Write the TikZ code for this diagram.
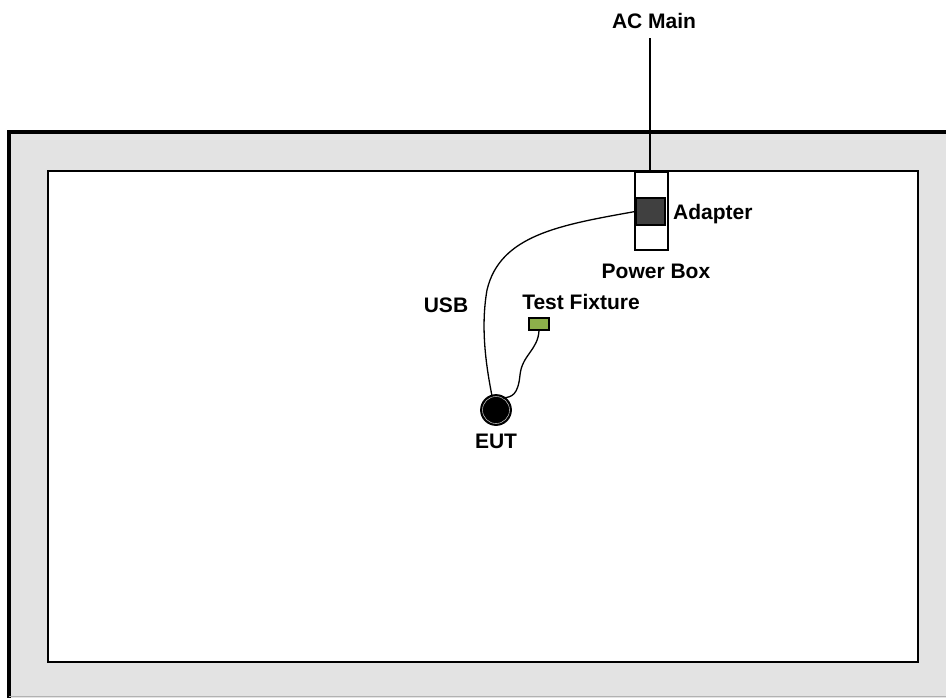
\documentclass[tikz,border=0pt]{standalone}
\usepackage{fontspec}
\setmainfont{Liberation Sans}
\begin{document}
\begin{tikzpicture}[x=1pt,y=-1pt,
  lbl/.style={font=\bfseries\fontsize{21}{23}\selectfont, inner sep=0pt},
  cable/.style={line width=1.3pt, line cap=round}]
\useasboundingbox (0,0) rectangle (946,697);
\begin{scope}
\clip (0,0) rectangle (946,697);
\fill[gray!22] (9,132) rectangle (960,710);
\draw[line width=4pt] (9,710) -- (9,132) -- (960,132);
\draw[gray!60, line width=1pt] (9,696) -- (946,696);
\end{scope}
\node[draw, line width=1.6pt, fill=white, minimum width=870pt, minimum height=491pt, inner sep=0pt, anchor=north west] (room) at (47,170) {};
% power box
\node[draw, line width=1.6pt, fill=white, minimum width=33pt, minimum height=78pt, inner sep=0pt, anchor=north west] (pbox) at (634,171) {};
\node[draw, line width=1.6pt, fill=black!75, minimum width=29pt, minimum height=27pt, inner sep=0pt] (adapter) at (650.5,211.5) {};
\node[lbl] (acmain) at (654,21) {AC Main};
\coordinate (acend) at (650,38);
\draw[line width=1.2pt] (acend) -- (pbox.north -| acend);
\node[lbl, anchor=west] (adlbl) at (673,214) {Adapter};
\node[lbl] (pblbl) at (656,271) {Power Box};
% EUT
\node[circle, draw=black, line width=1.8pt, fill=black, minimum size=30pt, inner sep=0pt] (eut) at (496,410) {};
\node[circle, draw=gray!60, line width=0.6pt, minimum size=27pt, inner sep=0pt] at (eut) {};
\node[lbl] (eutlbl) at (496,441) {EUT};
% test fixture
\node[draw, line width=1.2pt, fill={rgb,255:red,141;green,176;blue,74}, minimum width=20pt, minimum height=12pt, inner sep=0pt] (tf) at (539,324) {};
\node[lbl] (tflbl) at (581,302) {Test Fixture};
\node[lbl] (usblbl) at (446,305) {USB};
% cables
\draw[cable] (adapter.west) .. controls (560,225) and (500,235) .. (487,290) .. controls (480,330) and (487,370) .. (492,396);
\draw[cable] (tf.south) .. controls (538,350) and (522,355) .. (520,375) .. controls (518,395) and (512,397) .. (503,398);
\end{tikzpicture}
\end{document}
